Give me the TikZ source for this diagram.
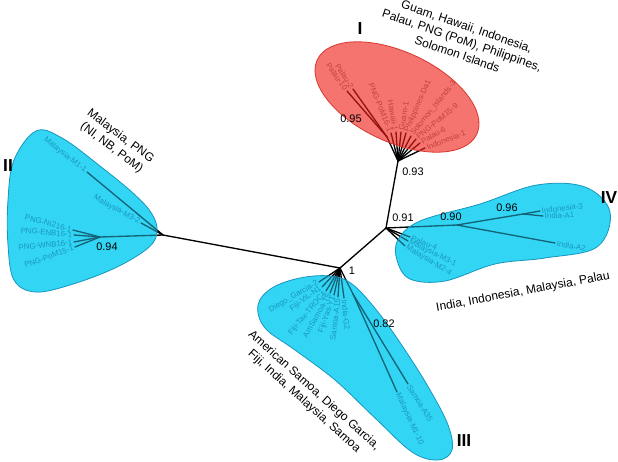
\documentclass[tikz,border=0pt]{standalone}
\usepackage{fontspec}
\setmainfont{Liberation Sans}

\definecolor{cladered}{RGB}{240,30,25}
\definecolor{cladecyan}{RGB}{40,200,240}
\definecolor{cyanbase}{RGB}{62,228,250}
\definecolor{rededge}{RGB}{215,55,45}
\definecolor{cyanedge}{RGB}{25,150,190}
\definecolor{redtext}{RGB}{120,120,120}
\definecolor{tealtext}{RGB}{10,100,140}

\newcommand{\cladeIIblob}{plot[smooth cycle, tension=0.6] coordinates {(36,131) (62,138) (100,166) (134,194) (152,214) (157,232) (148,248) (115,268) (70,285) (35,292) (14,280) (8,245) (8,200) (14,160)}}
\newcommand{\cladeIIIblob}{plot[smooth cycle, tension=0.6] coordinates {(258,305) (272,288) (300,278) (330,276) (352,284) (378,312) (405,350) (430,390) (448,425) (452,450) (438,460) (412,452) (375,418) (335,380) (295,350) (265,328)}}
\newcommand{\cladeIVblob}{plot[smooth cycle, tension=0.6] coordinates {(398,240) (420,221) (480,204) (537,185) (585,187) (610,212) (597,247) (545,258) (495,264) (445,281) (410,279) (397,260)}}

\begin{document}
\begin{tikzpicture}[
  x=0.75pt, y=-0.75pt,
  branch/.style={line width=1pt, line cap=round},
  leaf/.style={font=\fontsize{5.9}{6.8}\selectfont, inner sep=1.2pt, text=#1},
  leaf/.default=tealtext,
  tipL/.style={leaf=#1, anchor=east},
  tipL/.default=tealtext,
  tipR/.style={leaf=#1, anchor=west},
  tipR/.default=tealtext,
  support/.style={font=\fontsize{8.2}{9}\selectfont, inner sep=0pt},
  clade/.style={font=\fontsize{9}{11}\selectfont, align=center, inner sep=0pt},
  roman/.style={font=\fontsize{13}{15}\selectfont\bfseries, inner sep=0pt},
  under/.style={fill=cyanbase},
  blobred/.style={draw=rededge, line width=0.6pt, fill=cladered, fill opacity=0.62},
  blobcyan/.style={draw=cyanedge, line width=0.6pt, fill=cladecyan, fill opacity=0.5}
]
\useasboundingbox (0,0) rectangle (618,461);

\fill[under] \cladeIIblob;
\fill[under] \cladeIIIblob;
\fill[under] \cladeIVblob;

\coordinate (nA) at (340,268);
\coordinate (nB) at (386,228);
\coordinate (nC) at (398,161);
\coordinate (nD) at (163,235);

\coordinate (nPal) at (387,137);
\coordinate (tPal2) at (353,89);
\coordinate (tPal10) at (347,91);
\coordinate (tPoM16) at (391,133);
\coordinate (tHaw) at (396,132);
\coordinate (tGuam) at (401,132);
\coordinate (tPhi) at (406,133);
\coordinate (tSol) at (411,136);
\coordinate (tPoM159) at (416,139);
\coordinate (tPal6) at (420,143);
\coordinate (tIndo1) at (425,148);

\coordinate (nF) at (100,237);
\coordinate (tM11) at (87,172);
\coordinate (tM32) at (141,223);
\coordinate (tNI) at (73,230);
\coordinate (tENB) at (74,235);
\coordinate (tWNB) at (74,242);
\coordinate (tPoM151) at (75,247);

\coordinate (tDG) at (319,282);
\coordinate (tViL) at (322,287);
\coordinate (tTax) at (326,291);
\coordinate (tAmS) at (330,293);
\coordinate (tYas) at (334,295);
\coordinate (tA15) at (338,297);
\coordinate (tG2) at (344,298);
\coordinate (nG) at (353,294);
\coordinate (tM110) at (397,392);
\coordinate (tA35) at (408,384);

\coordinate (nH) at (457,225);
\coordinate (nJ) at (523,214);
\coordinate (tIndo3) at (540,211);
\coordinate (tA1) at (543,216);
\coordinate (tA2) at (555,243);
\coordinate (tPal4) at (410,237);
\coordinate (tM31) at (408,241);
\coordinate (tM24) at (405,246);

\draw[branch] (nD) -- (nA);
\draw[branch] (nA) -- (nB);
\draw[branch] (nB) -- (nC);

\draw[branch] (nC) -- (nPal);
\draw[branch] (nPal) -- (tPal2);
\draw[branch] (nPal) -- (tPal10);
\draw[branch] (nC) -- (tPoM16);
\draw[branch] (nC) -- (tHaw);
\draw[branch] (nC) -- (tGuam);
\draw[branch] (nC) -- (tPhi);
\draw[branch] (nC) -- (tSol);
\draw[branch] (nC) -- (tPoM159);
\draw[branch] (nC) -- (tPal6);
\draw[branch] (nC) -- (tIndo1);

\draw[branch] (nD) -- (tM11);
\draw[branch] (nD) -- (tM32);
\draw[branch] (nD) -- (nF);
\draw[branch] (nF) -- (tNI);
\draw[branch] (nF) -- (tENB);
\draw[branch] (nF) -- (tWNB);
\draw[branch] (nF) -- (tPoM151);

\draw[branch] (nA) -- (tDG);
\draw[branch] (nA) -- (tViL);
\draw[branch] (nA) -- (tTax);
\draw[branch] (nA) -- (tAmS);
\draw[branch] (nA) -- (tYas);
\draw[branch] (nA) -- (tA15);
\draw[branch] (nA) -- (tG2);
\draw[branch] (nA) -- (nG);
\draw[branch] (nG) -- (tM110);
\draw[branch] (nG) -- (tA35);

\draw[branch] (nB) -- (nH);
\draw[branch] (nH) -- (nJ);
\draw[branch] (nJ) -- (tIndo3);
\draw[branch] (nJ) -- (tA1);
\draw[branch] (nH) -- (tA2);
\draw[branch] (nB) -- (tPal4);
\draw[branch] (nB) -- (tM31);
\draw[branch] (nB) -- (tM24);

\node[tipL=redtext, rotate=-57] (lPal2) at (tPal2) {Palau-2};
\node[tipL=redtext, rotate=-55] (lPal10) at (tPal10) {Palau-10};
\node[tipL=redtext, rotate=-68] (lPoM16) at (tPoM16) {PNG-PoM16-1};
\node[tipL=redtext, rotate=-80] (lHaw) at (tHaw) {Hawaii-1};
\node[tipR=redtext, rotate=80] (lGuam) at (tGuam) {Guam-1};
\node[tipR=redtext, rotate=66] (lPhi) at (tPhi) {Philippines-Da1};
\node[tipR=redtext, rotate=51] (lSol) at (tSol) {Solomon\_Islands-3};
\node[tipR=redtext, rotate=40] (lPoM159) at (tPoM159) {PNG-PoM15-9};
\node[tipR=redtext, rotate=30] (lPal6) at (tPal6) {Palau-6};
\node[tipR=redtext, rotate=21] (lIndo1) at (tIndo1) {Indonesia-1};

\node[tipL, rotate=-38] (lM11) at (tM11) {Malaysia-M1-1};
\node[tipL, rotate=-29] (lM32) at (tM32) {Malaysia-M3-2};
\node[tipL, rotate=-15] (lNI) at (tNI) {PNG-NI216-1};
\node[tipL, rotate=-5] (lENB) at (tENB) {PNG-ENB16-1};
\node[tipL, rotate=6] (lWNB) at (tWNB) {PNG-WNB16-1};
\node[tipL, rotate=20] (lPoM151) at (tPoM151) {PNG-PoM15-1};

\node[tipL, rotate=30] (lDG) at (tDG) {Diego\_Garcia-2};
\node[tipL, rotate=36] (lViL) at (tViL) {Fiji-ViL-N1};
\node[tipL, rotate=50] (lTax) at (tTax) {Fiji-Tax-TROC4};
\node[tipL, rotate=60] (lAmS) at (tAmS) {AmSamoa-T5};
\node[tipL, rotate=71] (lYas) at (tYas) {Fiji-Yas-Y1};
\node[tipL, rotate=83] (lA15) at (tA15) {Samoa-A15};
\node[tipR, rotate=-84] (lG2) at (tG2) {India-G2};
\node[tipR, rotate=-65] (lM110) at (tM110) {Malaysia-M1-10};
\node[tipR, rotate=-58] (lA35) at (tA35) {Samoa-A35};

\node[tipR, rotate=7] (lIndo3) at (tIndo3) {Indonesia-3};
\node[tipR, rotate=2] (lA1) at (tA1) {India-A1};
\node[tipR, rotate=-10] (lA2) at (tA2) {India-A2};
\node[tipR, rotate=-22] (lPal4) at (tPal4) {Palau-4};
\node[tipR, rotate=-26] (lM31) at (tM31) {Malaysia-M3-1};
\node[tipR, rotate=-31] (lM24) at (tM24) {Malaysia-M2-4};

\draw[blobred, rotate around={-25:(397,97)}] (397,97) ellipse [x radius=88, y radius=45];
\draw[blobcyan] \cladeIIblob;
\draw[blobcyan] \cladeIIIblob;
\draw[blobcyan] \cladeIVblob;

\node[support] (s95) at (351,119) {0.95};
\node[support] (s93) at (413,172) {0.93};
\node[support] (s91) at (403,218) {0.91};
\node[support] (s1) at (352,271) {1};
\node[support] (s94) at (107,247) {0.94};
\node[support] (s82) at (384,324) {0.82};
\node[support] (s90) at (451,217) {0.90};
\node[support] (s96) at (507,208) {0.96};

\node[roman] (rI) at (360,29) {I};
\node[roman] (rII) at (8,166) {II};
\node[roman] (rIII) at (464,441) {III};
\node[roman] (rIV) at (609,198) {IV};

\node[clade, rotate=-19] (cI) at (462,40) {Guam, Hawaii, Indonesia,\\Palau, PNG (PoM), Philippines,\\Solomon Islands};
\node[clade, rotate=-37] (cII) at (116,142) {Malaysia, PNG\\(NI, NB, PoM)};
\node[clade, rotate=-42] (cIII) at (309,396) {American Samoa, Diego Garcia,\\Fiji, India, Malaysia, Samoa};
\node[clade, rotate=10.5] (cIV) at (523,292) {India, Indonesia, Malaysia, Palau};

\end{tikzpicture}
\end{document}
